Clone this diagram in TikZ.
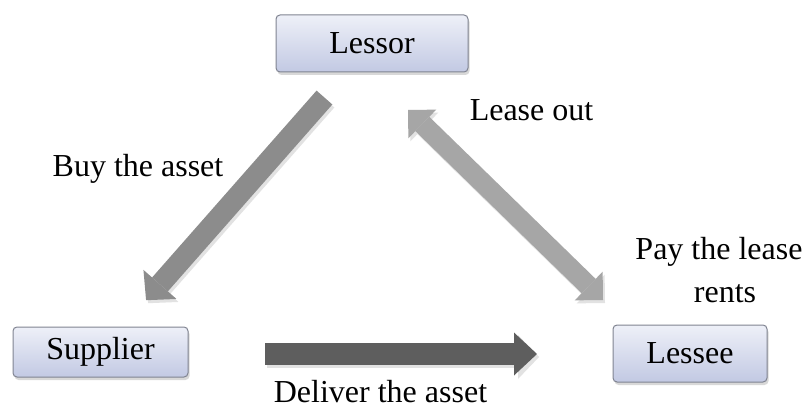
\documentclass[tikz,border=0pt]{standalone}
\usepackage{fontspec}
\setmainfont{Liberation Serif}
\usetikzlibrary{arrows.meta,shadows}
\definecolor{boxtop}{HTML}{EEF0F8}
\definecolor{boxbot}{HTML}{C2C9E3}
\definecolor{boxline}{HTML}{808491}
\definecolor{buycol}{HTML}{8C8C8C}
\definecolor{leasecol}{HTML}{A6A6A6}
\definecolor{delcol}{HTML}{5E5E5E}
\definecolor{shadecol}{HTML}{E2E2E2}
\begin{document}
\begin{tikzpicture}[x=1pt,y=-1pt,
  box/.style={rounded corners=4pt, draw=boxline, line width=1pt,
    top color=boxtop, bottom color=boxbot,
    font=\fontsize{32}{37}\selectfont, inner sep=0pt,
    drop shadow={shadow xshift=1.5pt,shadow yshift=-3pt,opacity=0.3}},
  lbl/.style={font=\fontsize{32}{43}\selectfont, inner sep=0pt},
  fat/.style={line width=21pt, -{Triangle[width=44pt,length=21pt,line width=0pt]}},
  fatboth/.style={line width=20pt, {Triangle[width=40pt,length=20pt,line width=0pt]}-{Triangle[width=40pt,length=20pt,line width=0pt]}},
  shade/.style={shadecol, transform canvas={shift={(2pt,-3pt)}}}
]
\useasboundingbox[fill=white] (0,0) rectangle (805,411);

% boxes
\node[box, minimum width=192pt, minimum height=57pt] (lessor) at (372,43.5) {Lessor};
\node[box, minimum width=175pt, minimum height=50pt] (supplier) at (100.5,352) {Supplier};
\node[box, minimum width=154pt, minimum height=57pt] (lessee) at (690,353.5) {Lessee};

% arrow end points
\coordinate (lsA) at (408,110);
\coordinate (lsB) at (603,300);
\coordinate (dvA) at (265,354);
\coordinate (dvB) at (537,354);

% shadows of arrows
\draw[fat, shade, shorten <=72pt, shorten >=69pt] (lessor.center) -- (supplier.center);
\draw[fatboth, shade] (lsA) -- (lsB);
\draw[fat, shade] (dvA) -- (dvB);

% arrows
\draw[fat, buycol, shorten <=72pt, shorten >=69pt] (lessor.center) -- (supplier.center);
\draw[fatboth, leasecol] (lsA) -- (lsB);
\draw[line width=22pt, delcol, -{Triangle[width=43pt,length=23pt,line width=0pt]}] (dvA) -- (dvB);

% labels
\node[lbl, anchor=base] (buy) at (138,177) {Buy the asset};
\node[lbl, anchor=base] (leaseout) at (531.5,121) {Lease out};
\node[lbl, anchor=base, align=center] (pay) at (719,302) {Pay the lease\\\hspace*{12pt}rents};
\node[lbl, anchor=base] (deliver) at (380.5,402) {Deliver the asset};
\end{tikzpicture}
\end{document}
